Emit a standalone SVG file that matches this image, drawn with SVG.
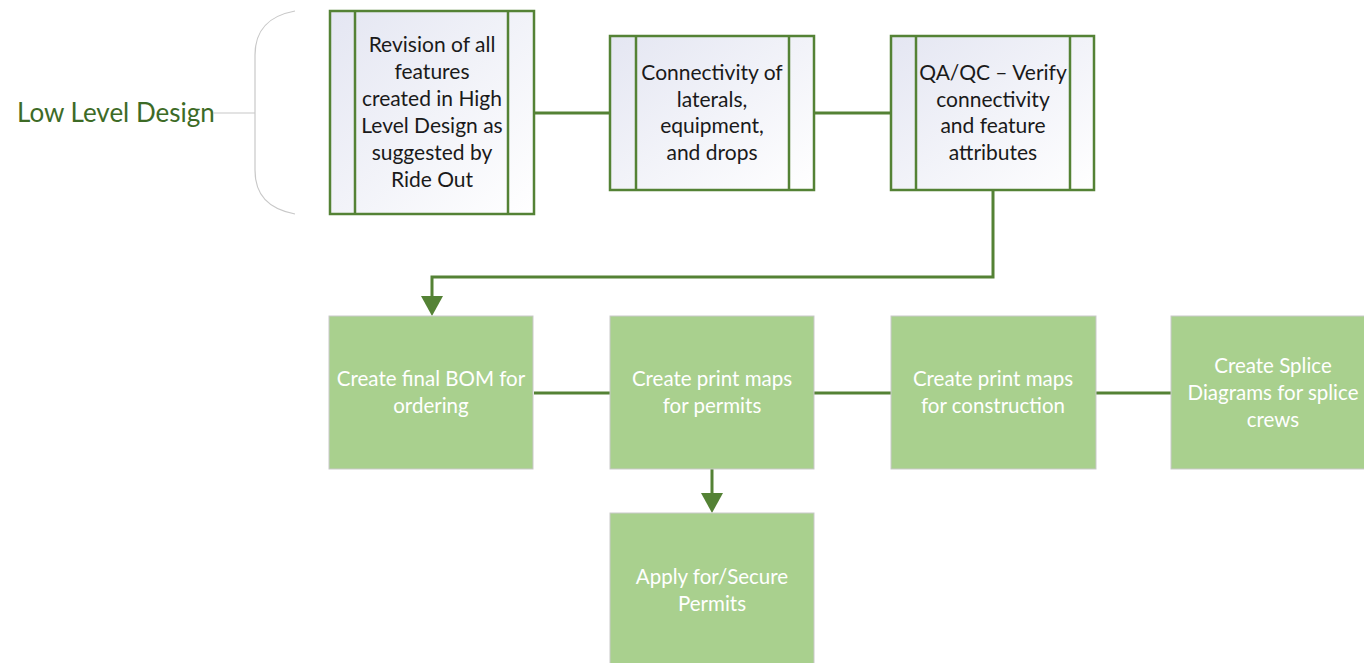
<svg xmlns="http://www.w3.org/2000/svg" width="1364" height="663" viewBox="0 0 1364 663">
<defs>
<linearGradient id="g1" x1="0" y1="0" x2="1" y2="1">
<stop offset="0" stop-color="#e4e6f2"/>
<stop offset="1" stop-color="#ffffff"/>
</linearGradient>
<path id="ah" d="M-11,0 L11,0 L0,20 Z"/>
<style>
.sub{fill:url(#g1);stroke:#548235;stroke-width:2.5}
.inner{stroke:#548235;stroke-width:2.5}
.gbox{fill:#a9d08e;stroke:#c9c9c9;stroke-width:1}
.t1{font-family:Lato,"Liberation Sans",sans-serif;font-size:21px;fill:#1a1a1a;text-anchor:middle}
.t2{font-family:Lato,"Liberation Sans",sans-serif;font-size:20.5px;fill:#ffffff;text-anchor:middle}
.con{fill:none;stroke:#548235;stroke-width:3}
.head{fill:#548235}
</style>
</defs>
<rect width="1364" height="663" fill="#ffffff"/>
<g id="label">
<text x="17" y="122" font-family="Lato,'Liberation Sans',sans-serif" font-size="26" fill="#3d6b26">Low Level Design</text>
<path d="M213,113 H255" stroke="#c8c8c8" stroke-width="1.2" fill="none"/>
<path d="M295,11 C268,16 255,30 255,55 V170 C255,195 268,209 295,214" stroke="#c8c8c8" stroke-width="1.2" fill="none"/>
</g>
<g id="connectors">
<path class="con" d="M534,113 H610"/>
<path class="con" d="M815,113 H891"/>
<path class="con" d="M993,190 V277 H432 V297"/>
<use href="#ah" class="head" x="432" y="296"/>
<path class="con" d="M534,393 H610"/>
<path class="con" d="M814,393 H891"/>
<path class="con" d="M1096,393 H1171"/>
<path class="con" d="M712,469 V494"/>
<use href="#ah" class="head" x="712" y="493"/>
</g>
<g id="n1">
<rect class="sub" x="330" y="11" width="204" height="203"/>
<line class="inner" x1="355" y1="11" x2="355" y2="214"/>
<line class="inner" x1="508" y1="11" x2="508" y2="214"/>
<text class="t1"><tspan x="432" y="52">Revision of all</tspan><tspan x="432" y="79">features</tspan><tspan x="432" y="106">created in High</tspan><tspan x="432" y="133">Level Design as</tspan><tspan x="432" y="160">suggested by</tspan><tspan x="432" y="187">Ride Out</tspan></text>
</g>
<g id="n2">
<rect class="sub" x="610" y="36" width="204" height="154"/>
<line class="inner" x1="636" y1="36" x2="636" y2="190"/>
<line class="inner" x1="789" y1="36" x2="789" y2="190"/>
<text class="t1"><tspan x="712" y="80">Connectivity of</tspan><tspan x="712" y="107">laterals,</tspan><tspan x="712" y="133">equipment,</tspan><tspan x="712" y="160">and drops</tspan></text>
</g>
<g id="n3">
<rect class="sub" x="891" y="36" width="203" height="154"/>
<line class="inner" x1="916" y1="36" x2="916" y2="190"/>
<line class="inner" x1="1070" y1="36" x2="1070" y2="190"/>
<text class="t1"><tspan x="993" y="80">QA/QC – Verify</tspan><tspan x="993" y="107">connectivity</tspan><tspan x="993" y="133">and feature</tspan><tspan x="993" y="160">attributes</tspan></text>
</g>
<g id="n4">
<rect class="gbox" x="329" y="316" width="204" height="153"/>
<text class="t2"><tspan x="431" y="386">Create final BOM for</tspan><tspan x="431" y="413">ordering</tspan></text>
</g>
<g id="n5">
<rect class="gbox" x="610" y="316" width="204" height="153"/>
<text class="t2"><tspan x="712" y="386">Create print maps</tspan><tspan x="712" y="413">for permits</tspan></text>
</g>
<g id="n6">
<rect class="gbox" x="891" y="316" width="205" height="153"/>
<text class="t2"><tspan x="993" y="386">Create print maps</tspan><tspan x="993" y="413">for construction</tspan></text>
</g>
<g id="n7">
<rect class="gbox" x="1171" y="316" width="204" height="153"/>
<text class="t2"><tspan x="1273" y="373">Create Splice</tspan><tspan x="1273" y="400">Diagrams for splice</tspan><tspan x="1273" y="427">crews</tspan></text>
</g>
<g id="n8">
<rect class="gbox" x="610" y="513" width="204" height="153"/>
<text class="t2"><tspan x="712" y="584">Apply for/Secure</tspan><tspan x="712" y="611">Permits</tspan></text>
</g>
</svg>
